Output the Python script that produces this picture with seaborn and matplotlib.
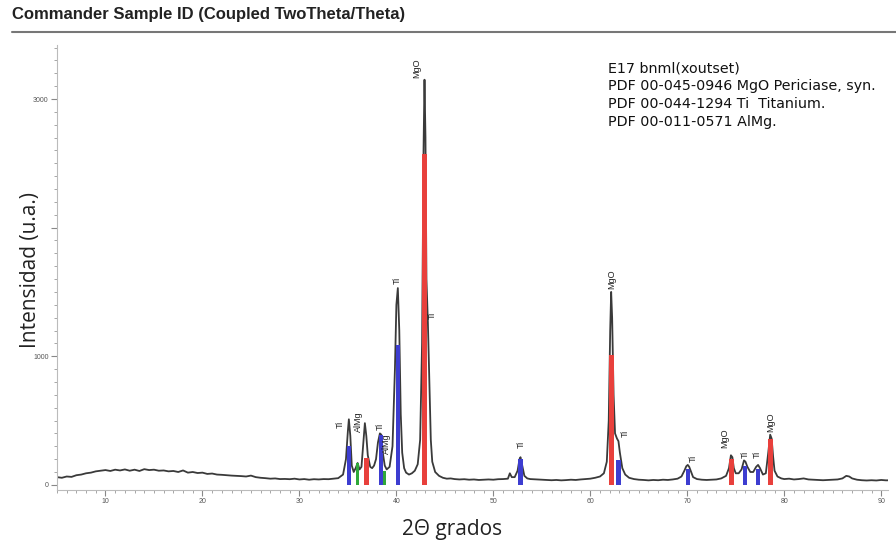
import numpy as np
import pandas as pd
import matplotlib
matplotlib.use("Agg")
import matplotlib.pyplot as plt
import seaborn as sns
from matplotlib.ticker import MultipleLocator, FixedLocator, FixedFormatter

# ---------------- data ----------------
two_theta = [
    5.0, 5.5, 6.0, 6.5, 7.0, 7.5, 8.0, 8.5, 9.0, 9.5, 10.0, 10.5, 11.0, 11.5, 12.0, 12.5,
    13.0, 13.5, 14.0, 14.5, 15.0, 15.5, 16.0, 16.5, 17.0, 17.5, 18.0, 18.5, 19.0, 19.5,
    20.0, 20.5, 21.0, 21.5, 22.0, 22.5, 23.0, 23.5, 24.0, 24.5, 25.0, 25.5, 26.0, 26.5,
    27.0, 27.5, 28.0, 28.5, 29.0, 29.5, 30.0, 30.5, 31.0, 31.5, 32.0, 32.5, 33.0, 33.5,
    34.0, 34.5, 34.8, 35.0, 35.1, 35.25, 35.4, 35.6, 35.8, 36.0, 36.2, 36.4, 36.6, 36.75,
    36.9, 37.05, 37.3, 37.5, 37.7, 37.9, 38.1, 38.3, 38.45, 38.6, 38.8, 39.0, 39.3, 39.6,
    39.85, 40.0, 40.15, 40.3, 40.45, 40.6, 40.8, 41.0, 41.3, 41.6, 41.9, 42.2, 42.45, 42.65,
    42.8, 42.9, 43.0, 43.1, 43.25, 43.4, 43.55, 43.7, 44.0, 44.4, 44.8, 45.2, 45.6, 46.0,
    46.5, 47.0, 47.5, 48.0, 48.5, 49.0, 49.5, 50.0, 50.5, 51.0, 51.5, 51.7, 51.9, 52.2,
    52.5, 52.7, 52.8, 52.95, 53.2, 53.5, 53.8, 54.5, 55.0, 55.5, 56.0, 56.5, 57.0, 57.5,
    58.0, 58.5, 59.0, 59.5, 60.0, 60.5, 61.0, 61.4, 61.7, 61.9, 62.05, 62.15, 62.25, 62.4,
    62.55, 62.75, 62.9, 63.05, 63.3, 63.6, 64.0, 64.5, 65.0, 65.5, 66.0, 66.5, 67.0, 67.5,
    68.0, 68.5, 69.0, 69.4, 69.7, 69.9, 70.05, 70.2, 70.4, 70.6, 71.0, 71.5, 72.0, 72.5,
    73.0, 73.5, 74.0, 74.3, 74.5, 74.65, 74.8, 75.0, 75.3, 75.6, 75.85, 76.0, 76.2, 76.5,
    76.8, 77.1, 77.3, 77.5, 77.8, 78.1, 78.35, 78.55, 78.7, 78.85, 79.0, 79.3, 79.7, 80.0,
    80.5, 81.0, 81.5, 82.0, 82.5, 83.0, 83.5, 84.0, 84.5, 85.0, 85.5, 86.0, 86.4, 86.7,
    87.0, 87.5, 88.0, 88.5, 89.0, 89.5, 90.0, 90.5, 91.0,
]
intensity = [
    60, 55, 65, 62, 75, 80, 90, 95, 105, 110, 115, 108, 118, 112, 120, 110,
    118, 108, 122, 115, 118, 110, 112, 105, 108, 100, 112, 95, 100, 92,
    95, 85, 88, 80, 78, 75, 72, 70, 68, 65, 72, 60, 55, 52,
    48, 50, 45, 46, 44, 48, 42, 45, 40, 44, 42, 45, 44, 48,
    52, 80, 200, 420, 510, 380, 150, 100, 130, 170, 120, 140, 330, 480,
    380, 230, 140, 130, 150, 200, 330, 400, 390, 250, 150, 120, 140, 300,
    900, 1400, 1530, 1200, 550, 250, 130, 95, 80, 90, 110, 160, 350, 1100,
    2600, 3150, 2700, 1600, 1260, 800, 350, 180, 100, 70, 55, 48, 50, 45,
    42, 44, 40, 42, 38, 40, 42, 40, 44, 45, 48, 90, 60, 60,
    110, 200, 215, 160, 70, 50, 45, 42, 40, 38, 36, 38, 35, 37,
    40, 38, 42, 45, 48, 55, 65, 90, 180, 500, 1200, 1500, 1300, 700,
    400, 360, 340, 250, 130, 80, 55, 45, 40, 38, 35, 38, 36, 40,
    38, 42, 48, 65, 110, 145, 155, 140, 100, 60, 45, 40, 38, 40,
    42, 50, 70, 130, 230, 215, 130, 90, 90, 120, 190, 180, 140, 100,
    100, 140, 155, 130, 80, 90, 250, 390, 360, 220, 110, 65, 50, 45,
    48, 42, 45, 50, 42, 40, 38, 36, 38, 40, 42, 50, 70, 65,
    50, 40, 36, 34, 36, 34, 38, 35, 36,
]

# reference stick patterns
mgo_pos = [36.9, 42.9, 62.2, 74.55, 78.6]
mgo_int = [210, 2570, 1010, 200, 360]
ti_pos = [35.1, 38.4, 40.15, 52.8, 62.9, 70.05, 75.95, 77.3]
ti_int = [300, 390, 1090, 200, 195, 120, 150, 120]
almg_pos = [36.0, 38.75]
almg_int = [170, 110]

# peak annotations: (label, 2theta, intensity)
ann_labels = ["MgO", "Ti", "Ti", "Ti", "AlMg", "Ti", "AlMg", "Ti", "MgO", "Ti", "Ti", "MgO", "Ti", "Ti", "MgO"]
ann_x = [42.1, 40.1, 43.7, 34.2, 36.1, 38.3, 39.0, 52.9, 62.2, 63.6, 70.6, 73.85, 75.95, 77.25, 78.6]
ann_y = [3160, 1560, 1290, 440, 410, 430, 240, 290, 1520, 370, 180, 290, 210, 210, 410]

legend_lines = [
    "E17 bnml(xoutset)",
    "PDF 00-045-0946 MgO Periciase, syn.",
    "PDF 00-044-1294 Ti  Titanium.",
    "PDF 00-011-0571 AlMg.",
]

x_ticks = [10, 20, 30, 40, 50, 60, 70, 80, 90]
y_ticks = [0, 1000, 2000, 3000]
y_tick_labels = ["0", "1000", "", "3000"]

# ---------------- drawing ----------------
sns.set_style("white")
plt.rcParams["font.family"] = ["Liberation Sans", "DejaVu Sans"]

fig = plt.figure(figsize=(8.96, 5.48), dpi=100)
ax = fig.add_axes([57 / 896, 1 - 490 / 548, (888 - 57) / 896, (490 - 45) / 548])

df = pd.DataFrame({"two_theta": two_theta, "intensity": intensity})
sns.lineplot(data=df, x="two_theta", y="intensity", ax=ax, color="#3a3a3a",
             linewidth=1.3, zorder=2)

ax.bar(mgo_pos, mgo_int, width=0.45, color="#e8403c", zorder=3, linewidth=0)
ax.bar(ti_pos, ti_int, width=0.45, color="#3d3dd0", zorder=3, linewidth=0)
ax.bar(almg_pos, almg_int, width=0.35, color="#2fa83a", zorder=3, linewidth=0)

for lab, xx, yy in zip(ann_labels, ann_x, ann_y):
    ax.text(xx, yy, lab, rotation=90, ha="center", va="bottom", fontsize=6.5,
            color="#222222", zorder=4)

ax.set_xlim(5.0, 90.7)
ax.set_ylim(-40, 3420)

ax.xaxis.set_major_locator(FixedLocator(x_ticks))
ax.xaxis.set_minor_locator(MultipleLocator(1))
ax.yaxis.set_major_locator(FixedLocator(y_ticks))
ax.yaxis.set_major_formatter(FixedFormatter(y_tick_labels))
ax.yaxis.set_minor_locator(MultipleLocator(100))
ax.tick_params(axis="both", which="both", bottom=True, left=True, top=False, right=False)
ax.tick_params(axis="both", which="major", direction="out", length=4, width=0.8,
               colors="#888888", labelsize=5, labelcolor="#555555", pad=2)
ax.tick_params(axis="both", which="minor", direction="out", length=2, width=0.6,
               colors="#999999")
for side in ["top", "right"]:
    ax.spines[side].set_visible(False)
for side in ["left", "bottom"]:
    ax.spines[side].set_color("#bbbbbb")
    ax.spines[side].set_linewidth(0.8)

ax.set_xlabel("2Θ grados", fontsize=15, family=["Open Sans", "DejaVu Sans"],
              color="#222222", va="center")
ax.xaxis.set_label_coords((452 - 57) / (888 - 57), (490 - 530) / (490 - 45))
ax.set_ylabel("Intensidad (u.a.)", fontsize=15, family=["Open Sans", "DejaVu Sans"],
              color="#222222", va="center")
ax.yaxis.set_label_coords((30 - 57) / (888 - 57), (490 - 270) / (490 - 45))

# title and rule
fig.text(12 / 896, 1 - 15 / 548, "Commander Sample ID (Coupled TwoTheta/Theta)",
         fontsize=12, fontweight="bold", color="#222222", ha="left", va="center")
fig.add_artist(plt.Line2D([12 / 896, 1.0], [1 - 32 / 548, 1 - 32 / 548],
                          color="#777777", linewidth=1.5))

# legend text block
for i, line in enumerate(legend_lines):
    fig.text(608 / 896, 1 - (68 + 18 * i) / 548, line, fontsize=10.3,
             family=["DejaVu Sans"], color="#111111", ha="left", va="center")

fig.savefig("out.png", dpi=100)
